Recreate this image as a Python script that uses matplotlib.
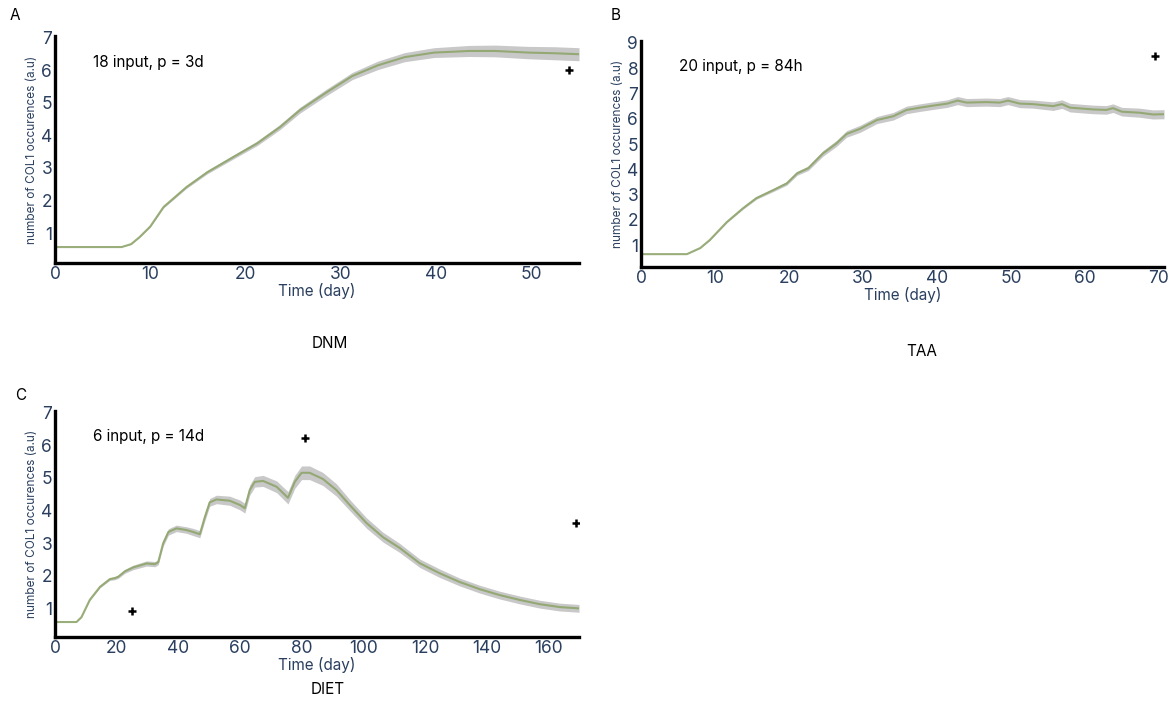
import matplotlib
matplotlib.use("Agg")
import matplotlib.pyplot as plt
import numpy as np

plt.rcParams['font.family'] = ['Inter', 'DejaVu Sans']

# panel A - DNM
days_a = [0, 7, 8, 8.9, 10, 11.4, 13.8, 16, 18.7, 21.2, 23.6, 25.7, 28.5, 31.2,
          33.9, 36.7, 39.8, 43.5, 46.2, 49.7, 52.4, 55]
vals_a = [0.57, 0.57, 0.66, 0.88, 1.2, 1.8, 2.41, 2.87, 3.33, 3.75, 4.25, 4.77,
          5.32, 5.82, 6.15, 6.4, 6.54, 6.59, 6.59, 6.54, 6.52, 6.49]
spread_a = [0, 0, 0.01, 0.01, 0.02, 0.03, 0.04, 0.05, 0.06, 0.07, 0.08, 0.09,
            0.1, 0.11, 0.13, 0.14, 0.15, 0.17, 0.18, 0.19, 0.2, 0.2]
marks_a_x = [54]
marks_a_y = [6.0]

# panel B - TAA
days_b = [0, 6.2, 8, 9.3, 11.6, 13.8, 15.6, 17.9, 19.7, 21.1, 22.6, 24.6, 26.4,
          27.8, 29.6, 31.9, 34.1, 35.9, 37.7, 39.5, 41.4, 42.8, 44, 46.7, 48.5,
          49.6, 51.2, 53, 55.7, 56.9, 58, 61.1, 62.9, 63.8, 65, 67.4, 69.2, 70.7]
vals_b = [0.64, 0.64, 0.88, 1.2, 1.91, 2.46, 2.86, 3.18, 3.44, 3.84, 4.04, 4.63,
          5.02, 5.4, 5.6, 5.95, 6.1, 6.35, 6.44, 6.52, 6.6, 6.72, 6.64, 6.66,
          6.64, 6.72, 6.6, 6.58, 6.5, 6.58, 6.44, 6.37, 6.35, 6.42, 6.28, 6.24,
          6.17, 6.18]
spread_b = [0, 0, 0.01, 0.02, 0.03, 0.04, 0.05, 0.06, 0.07, 0.08, 0.09, 0.11,
            0.12, 0.13, 0.14, 0.14, 0.15, 0.15, 0.15, 0.15, 0.15, 0.16, 0.16,
            0.16, 0.16, 0.16, 0.16, 0.16, 0.17, 0.17, 0.17, 0.17, 0.17, 0.17,
            0.17, 0.18, 0.18, 0.18]
marks_b_x = [69.5]
marks_b_y = [8.49]

# panel C - DIET
days_c = [0, 7, 8.6, 11.3, 14.6, 17.8, 19.4, 20.5, 22.7, 25.4, 29.7, 32.4, 33.5,
          35.1, 36.8, 39.4, 42.6, 44.8, 47, 48.6, 50.2, 52.4, 56.7, 60, 61.6,
          63.2, 64.8, 67.5, 71.9, 75.6, 77.8, 80, 82.6, 86.9, 91.3, 95.6, 101,
          106.4, 111.8, 118.3, 124.8, 131.3, 137.8, 144.2, 150.7, 157.2, 163.7,
          170]
vals_c = [0.57, 0.57, 0.72, 1.25, 1.65, 1.89, 1.92, 1.96, 2.13, 2.25, 2.37, 2.35,
          2.41, 2.99, 3.34, 3.45, 3.4, 3.34, 3.27, 3.79, 4.25, 4.34, 4.3, 4.17,
          4.07, 4.63, 4.88, 4.91, 4.73, 4.39, 4.88, 5.16, 5.16, 4.97, 4.63, 4.17,
          3.62, 3.18, 2.85, 2.38, 2.07, 1.8, 1.58, 1.4, 1.25, 1.12, 1.03, 0.99]
spread_c = [0, 0, 0.01, 0.02, 0.03, 0.04, 0.05, 0.05, 0.06, 0.07, 0.08, 0.08,
            0.08, 0.09, 0.1, 0.1, 0.1, 0.11, 0.11, 0.12, 0.12, 0.13, 0.14, 0.15,
            0.15, 0.16, 0.16, 0.17, 0.18, 0.19, 0.2, 0.21, 0.21, 0.2, 0.19,
            0.17, 0.16, 0.15, 0.14, 0.13, 0.13, 0.12, 0.12, 0.12, 0.12, 0.12,
            0.12, 0.12]
marks_c_x = [25, 81, 169]
marks_c_y = [0.9, 6.23, 3.6]

TICK_COL = '#2a3f5f'

fig = plt.figure(figsize=(11.74, 7.04), dpi=100)


def panel(rect, days, vals, spread, mx, my, xlim, ylim, yticks, xticks, note):
    ax = fig.add_axes(rect)
    d = np.array(days)
    v = np.array(vals)
    s = np.array(spread)
    ax.fill_between(d, v - s, v + s, color='#c8c8c8', lw=0, zorder=1)
    ax.plot(d, v, color='#8fa56b', lw=1.5, alpha=0.9, zorder=2)
    ax.plot(mx, my, ls='none', marker='+', color='black', ms=6, mew=1.8, zorder=3)
    ax.set_xlim(*xlim)
    ax.set_ylim(*ylim)
    ax.set_xticks(xticks)
    ax.set_yticks(yticks)
    for sp in ['top', 'right']:
        ax.spines[sp].set_visible(False)
    for sp in ['left', 'bottom']:
        ax.spines[sp].set_linewidth(2.4)
        ax.spines[sp].set_color('black')
    ax.tick_params(length=0, labelsize=12.5, labelcolor=TICK_COL, pad=2)
    ax.set_xlabel('Time (day)', fontsize=11, color=TICK_COL, labelpad=0)
    ax.set_ylabel('number of COL1 occurences (a.u)', fontsize=8.5, color=TICK_COL,
                  labelpad=2)
    ax.text(0.073, 0.885, note, transform=ax.transAxes, fontsize=11,
            color='black', va='center', ha='left')
    return ax


panel([0.0468, 0.6264, 0.4464, 0.3225], days_a, vals_a, spread_a,
      marks_a_x, marks_a_y, (0, 55), (0.08, 7.05), range(1, 8),
      range(0, 51, 10), '18 input, p = 3d')
panel([0.546, 0.6207, 0.4455, 0.3211], days_b, vals_b, spread_b,
      marks_b_x, marks_b_y, (0, 70.7), (0.13, 9.08), range(1, 10),
      range(0, 71, 10), '20 input, p = 84h')
panel([0.0468, 0.0952, 0.4464, 0.321], days_c, vals_c, spread_c,
      marks_c_x, marks_c_y, (0, 170), (0.11, 7.06), range(1, 8),
      range(0, 161, 20), '6 input, p = 14d')

W, H = 1174, 704
for txt, x, y in [('A', 15, 15), ('B', 616, 15), ('C', 21, 395)]:
    fig.text(x / W, 1 - y / H, txt, fontsize=11, ha='center', va='center')
for txt, x, y in [('DNM', 330, 344), ('TAA', 922, 351), ('DIET', 328, 690)]:
    fig.text(x / W, 1 - y / H, txt, fontsize=11, ha='center', va='center')

fig.savefig('out.png', dpi=100)
